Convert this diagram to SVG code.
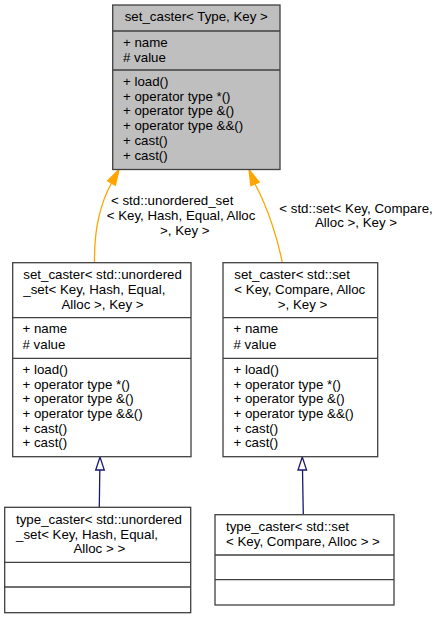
<svg xmlns="http://www.w3.org/2000/svg" width="442" height="619" viewBox="0 0 442 619">
<style>
text{font-family:"Liberation Sans",Arial,Helvetica,sans-serif;font-size:13.3px;fill:#000}
.box{fill:#fff;stroke:#404040;stroke-width:1.3}
.cur{fill:#bfbfbf;stroke:#404040;stroke-width:1.3}
.sep{stroke:#404040;stroke-width:1.3;fill:none}
.inh{stroke:#ffa500;stroke-width:1.3;fill:none}
.der{stroke:#191970;stroke-width:1.3;fill:none}
.ah{fill:#ffa500;stroke:#ffa500;stroke-width:1.3}
.dh{fill:#fff;stroke:#191970;stroke-width:1.3}
</style>
<rect width="442" height="619" fill="#fff"/>
<g id="connectors">
<path class="inh" d="M94.5,262.7 C94,232 100,204 111.5,183"/>
<polygon class="ah" points="119,169.5 107.6,180.8 115.4,185.2"/>
<path class="inh" d="M282.3,262.7 C278,240 268,208 255,184"/>
<polygon class="ah" points="249,169.5 259.2,182.3 250.8,185.7"/>
<path class="der" d="M99.3,507.3 L99.8,470"/>
<polygon class="dh" points="100,457 95.7,470 104.3,470"/>
<path class="der" d="M303.3,514.7 L302.5,470"/>
<polygon class="dh" points="302.3,457 298,470 306.6,470"/>
<text x="111" y="205">&lt; std::unordered_set</text>
<text x="106.7" y="220">&lt; Key, Hash, Equal, Alloc</text>
<text x="160" y="235">&gt;, Key &gt;</text>
<text x="279.3" y="212.5">&lt; std::set&lt; Key, Compare,</text>
<text x="315" y="227.2">Alloc &gt;, Key &gt;</text>
</g>
<g id="node_set_caster_type_key">
<rect class="cur" x="112.7" y="5" width="167.3" height="164.5"/>
<text x="196.3" y="21" text-anchor="middle">set_caster&lt; Type, Key &gt;</text>
<line class="sep" x1="112.7" y1="31" x2="280" y2="31"/>
<text x="123" y="46.5">+ name</text>
<text x="123" y="62"># value</text>
<line class="sep" x1="112.7" y1="70" x2="280" y2="70"/>
<text x="123" y="86">+ load()</text>
<text x="123" y="100.7">+ operator type *()</text>
<text x="123" y="115.4">+ operator type &amp;()</text>
<text x="123" y="130.1">+ operator type &amp;&amp;()</text>
<text x="123" y="144.8">+ cast()</text>
<text x="123" y="159.5">+ cast()</text>
</g>
<g id="node_set_caster_unordered">
<rect class="box" x="12.7" y="262.7" width="178.3" height="194"/>
<text x="23.3" y="279.3">set_caster&lt; std::unordered</text>
<text x="23.3" y="294.3">_set&lt; Key, Hash, Equal,</text>
<text x="102.5" y="309" text-anchor="middle">Alloc &gt;, Key &gt;</text>
<line class="sep" x1="12.7" y1="317.7" x2="191" y2="317.7"/>
<text x="22.5" y="333.3">+ name</text>
<text x="22.5" y="348.7"># value</text>
<line class="sep" x1="12.7" y1="358.3" x2="191" y2="358.3"/>
<text x="22.5" y="374">+ load()</text>
<text x="22.5" y="388.5">+ operator type *()</text>
<text x="22.5" y="403.2">+ operator type &amp;()</text>
<text x="22.5" y="417.8">+ operator type &amp;&amp;()</text>
<text x="22.5" y="432.5">+ cast()</text>
<text x="22.5" y="447">+ cast()</text>
</g>
<g id="node_set_caster_set">
<rect class="box" x="223" y="262.7" width="154.7" height="194"/>
<text x="234.3" y="279.3">set_caster&lt; std::set</text>
<text x="234.3" y="294.3">&lt; Key, Compare, Alloc</text>
<text x="302.5" y="309" text-anchor="middle">&gt;, Key &gt;</text>
<line class="sep" x1="223" y1="317.7" x2="377.7" y2="317.7"/>
<text x="233.5" y="333.3">+ name</text>
<text x="233.5" y="348.7"># value</text>
<line class="sep" x1="223" y1="358.3" x2="377.7" y2="358.3"/>
<text x="233.5" y="374">+ load()</text>
<text x="233.5" y="388.5">+ operator type *()</text>
<text x="233.5" y="403.2">+ operator type &amp;()</text>
<text x="233.5" y="417.8">+ operator type &amp;&amp;()</text>
<text x="233.5" y="432.5">+ cast()</text>
<text x="233.5" y="447">+ cast()</text>
</g>
<g id="node_type_caster_unordered">
<rect class="box" x="4.7" y="507.3" width="186" height="105.4"/>
<text x="16" y="524">type_caster&lt; std::unordered</text>
<text x="16" y="538.7">_set&lt; Key, Hash, Equal,</text>
<text x="99.3" y="553.3" text-anchor="middle">Alloc &gt; &gt;</text>
<line class="sep" x1="4.7" y1="562.3" x2="190.7" y2="562.3"/>
<line class="sep" x1="4.7" y1="587" x2="190.7" y2="587"/>
</g>
<g id="node_type_caster_set">
<rect class="box" x="215" y="514.7" width="179" height="90.3"/>
<text x="226" y="531.3">type_caster&lt; std::set</text>
<text x="226" y="545.7">&lt; Key, Compare, Alloc &gt; &gt;</text>
<line class="sep" x1="215" y1="555" x2="394" y2="555"/>
<line class="sep" x1="215" y1="579.7" x2="394" y2="579.7"/>
</g>
</svg>
